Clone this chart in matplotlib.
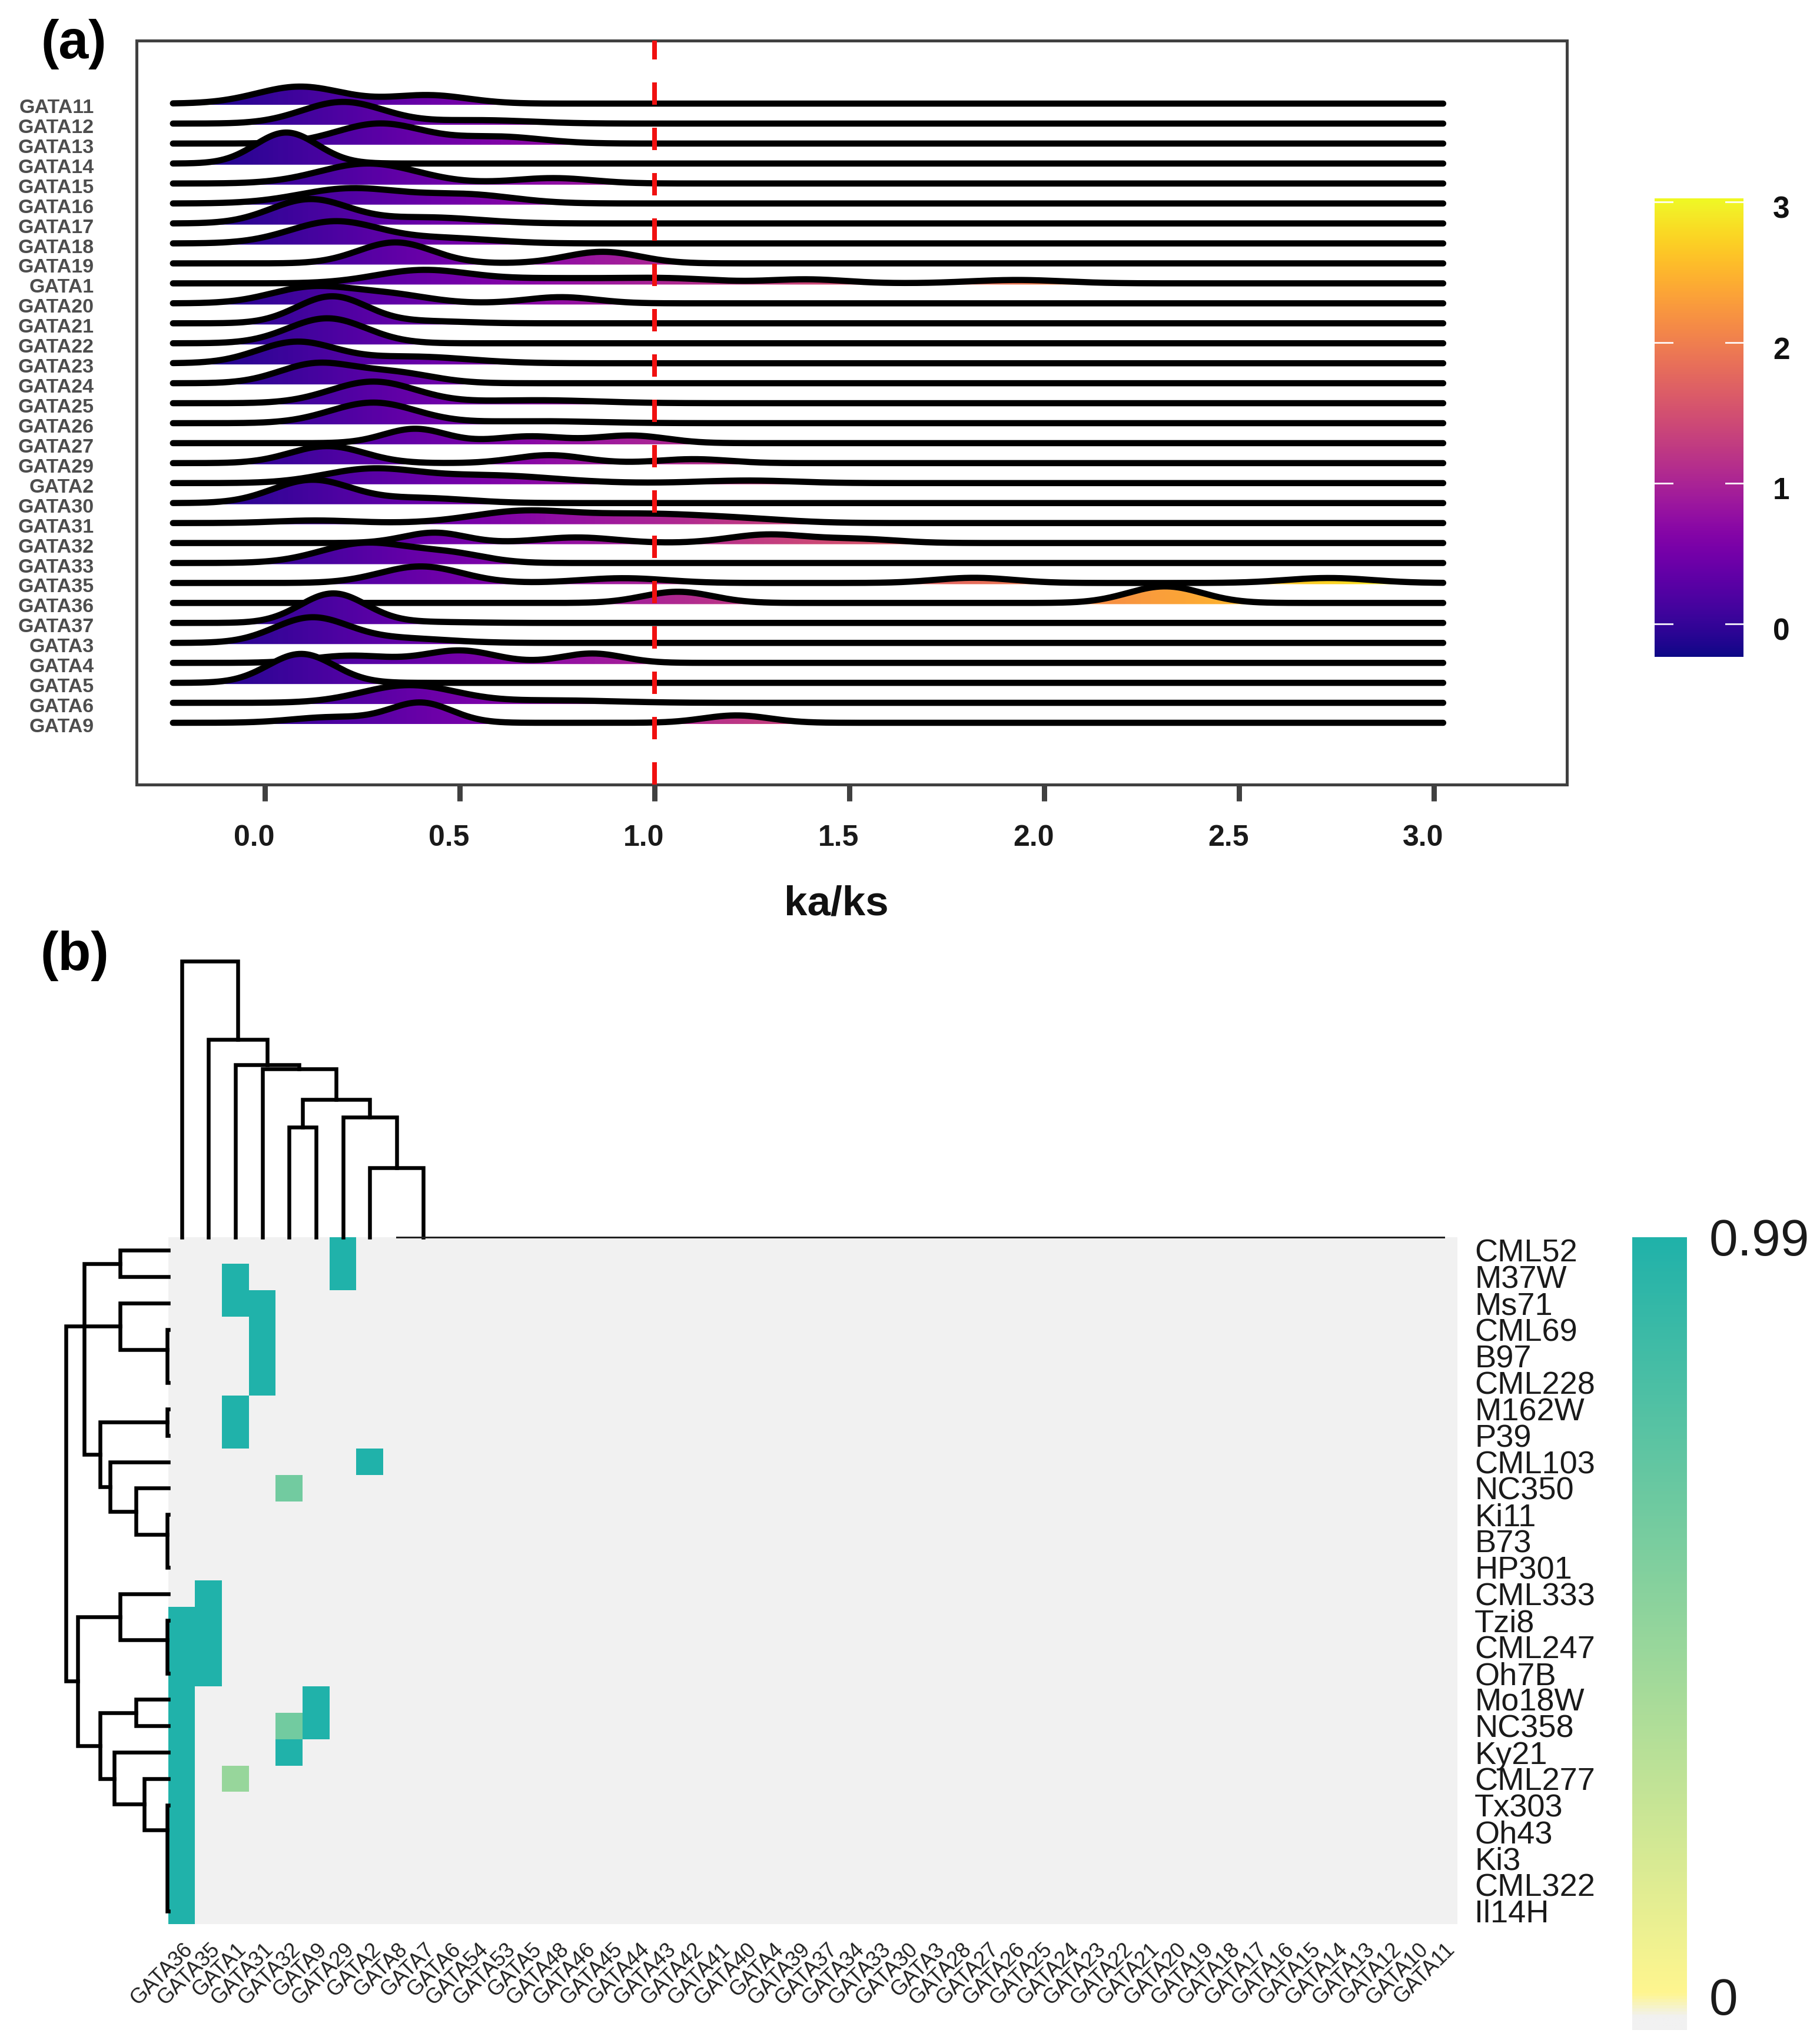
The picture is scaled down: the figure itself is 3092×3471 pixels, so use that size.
import numpy as np
import matplotlib
matplotlib.use("Agg")
import matplotlib.pyplot as plt
from matplotlib.colors import LinearSegmentedColormap, Normalize
from matplotlib.patches import PathPatch
from matplotlib.path import Path
from matplotlib.transforms import ScaledTranslation

plt.rcParams['font.family'] = ['Liberation Sans', 'DejaVu Sans']

W, H, DPI = 3092, 3471, 100
PT = 72 / DPI

# ---------- panel (a) data ----------
GENES = ["GATA11","GATA12","GATA13","GATA14","GATA15","GATA16","GATA17","GATA18","GATA19","GATA1",
         "GATA20","GATA21","GATA22","GATA23","GATA24","GATA25","GATA26","GATA27","GATA29","GATA2",
         "GATA30","GATA31","GATA32","GATA33","GATA35","GATA36","GATA37","GATA3","GATA4","GATA5",
         "GATA6","GATA9"]
# density bumps of each gene: centre (ka/ks), height (in rows), spread (ka/ks)
PEAK_X = [[.09,.42],[.2,.55],[.295,.6],[.055],[.265,.74],[.22,.52],[.115,.42],[.18,.47],[.335,.867],
          [.4,.75,1.05,1.39,1.93],[.12,.32,.76],[.172,.42],[.16],[.08,.38],[.13,.33],[.278,.7],[.278,.7],
          [.385,.68,.94],[.16,.73,1.1],[.27,.58,1.24],[.12,.4],[.13,.66,.97,1.22],[.435,.8,1.29,1.52],
          [.26,.48],[.4,.92,1.82,2.73],[1.06,2.31],[.175,.4],[.119,.35],[.22,.5,.84],[.093],[.37,.75],
          [.17,.4,1.21]]
PEAK_H = [[.85,.42],[1.08,.17],[1.0,.34],[1.55],[1.0,.27],[.75,.43],[1.2,.3],[1.1,.25],[1.05,.58],
          [.62,.25,.18,.2,.17],[.8,.42,.31],[1.35,.1],[1.25],[1.05,.33],[.95,.52],[1.08,.15],[1.03,.1],
          [.72,.34,.38],[.85,.4,.2],[.68,.38,.13],[1.15,.25],[.13,.58,.42,.18],[.52,.28,.42,.2],
          [1.0,.42],[.83,.24,.26,.25],[.56,.83],[1.47,.05],[1.25,.22],[.36,.62,.47],[1.45],[.88,.12],
          [.28,1.0,.37]]
PEAK_W = [[.11,.1],[.105,.13],[.11,.11],[.08],[.125,.1],[.13,.12],[.1,.13],[.115,.12],[.095,.095],
          [.12,.2,.12,.1,.12],[.105,.1,.09],[.09,.1],[.1],[.1,.14],[.095,.1],[.11,.15],[.11,.15],
          [.08,.09,.09],[.095,.09,.09],[.12,.16,.12],[.1,.12],[.1,.13,.15,.13],[.08,.1,.1,.1],
          [.115,.09],[.105,.11,.1,.11],[.09,.095],[.085,.12],[.095,.12],[.1,.09,.08],[.085],[.12,.15],
          [.1,.08,.085]]
X_MIN, X_MAX = -0.236, 3.024
CUTOFF = 1.0
XTICKS = [0.0, 0.5, 1.0, 1.5, 2.0, 2.5, 3.0]
CBAR_A_TICKS = [0, 1, 2, 3]

# ---------- panel (b) data ----------
COLS = ["GATA36","GATA35","GATA1","GATA31","GATA32","GATA9","GATA29","GATA2","GATA8","GATA7","GATA6",
        "GATA54","GATA53","GATA5","GATA48","GATA46","GATA45","GATA44","GATA43","GATA42","GATA41",
        "GATA40","GATA4","GATA39","GATA37","GATA34","GATA33","GATA30","GATA3","GATA28","GATA27",
        "GATA26","GATA25","GATA24","GATA23","GATA22","GATA21","GATA20","GATA19","GATA18","GATA17",
        "GATA16","GATA15","GATA14","GATA13","GATA12","GATA10","GATA11"]
ROWS = ["CML52","M37W","Ms71","CML69","B97","CML228","M162W","P39","CML103","NC350","Ki11","B73",
        "HP301","CML333","Tzi8","CML247","Oh7B","Mo18W","NC358","Ky21","CML277","Tx303","Oh43","Ki3",
        "CML322","Il14H"]
HIGH = 0.99
CELL_ROW = [0,1, 1,2, 2,3,4,5, 6,7, 8, 9, 13,14,15,16, 14,15,16,17,18,19,20,21,22,23,24,25, 17,18, 18, 19, 20]
CELL_COL = [6,6, 2,2, 3,3,3,3, 2,2, 7, 4, 1,1,1,1, 0,0,0,0,0,0,0,0,0,0,0,0, 5,5, 4, 4, 2]
CELL_VAL = [HIGH]*11 + [.64] + [HIGH]*18 + [.64, HIGH, .48]

# dendrogram links: lower child position, upper child position, height, child heights
COL_LO   = [4.5, 7.5, 6.5, 5.0, 3.5, 2.5, 1.5, 0.5]
COL_HI   = [5.5, 9.5, 8.5, 7.5, 6.25, 4.875, 3.6875, 2.594]
COL_H    = [.399, .252, .435, .499, .61, .625, .716, 1.0]
COL_H_LO = [0, 0, 0, .399, 0, 0, 0, 0]
COL_H_HI = [0, 0, .252, .435, .499, .61, .625, .716]
COL_FLAT = [8.5, 47.5]

ROW_LO   = [.5,3.5,2.5,6.5,10.5,9.5,8.5,7,1,14.5,13.5,17.5,21.5,20.5,19.5,18,14.375,3.375]
ROW_HI   = [1.5,5.5,4.25,7.5,12.5,11.25,10.375,9.4375,8.22,16.5,15.25,18.5,25.5,22.43,21.46,20.5,19.25,16.8]
ROW_H    = [.471,.014,.471,.014,.014,.316,.571,.667,.822,.014,.471,.316,.014,.236,.529,.667,.885,1.0]
ROW_H_LO = [0,0,0,0,0,0,0,.014,.471,0,0,0,0,0,0,.316,.471,.471]
ROW_H_HI = [0,0,.014,0,0,.014,.316,.571,.667,0,.014,0,0,.014,.236,.529,.667,.885]

fig = plt.figure(figsize=(W / DPI, H / DPI), dpi=DPI, facecolor='white')

def axpx(l, t, r, b, **kw):
    return fig.add_axes([l / W, 1 - b / H, (r - l) / W, (b - t) / H], **kw)

def shift(label, dx, dy):
    label.set_transform(label.get_transform() +
                        ScaledTranslation(dx / DPI, dy / DPI, fig.dpi_scale_trans))

def figtext(x, y, s, **kw):
    fig.text(x / W, 1 - y / H, s, **kw)

# ---------- ridges ----------
FRAME_R = 2662
ax = axpx(232, 69, FRAME_R, 1333)
n = len(GENES)
row_px = 33.94
xlim = ((232 - 450) / 662, (FRAME_R - 450) / 662)
ylim = (1 - 105 / row_px, n + 107 / row_px)
xs = np.linspace(X_MIN, X_MAX, 1400)
grad = np.linspace(X_MIN, X_MAX, 700)[None, :]
for i, g in enumerate(GENES):
    base = n - i
    h = np.zeros_like(xs)
    for c, a, s in zip(PEAK_X[i], PEAK_H[i], PEAK_W[i]):
        h += a * np.exp(-0.5 * ((xs - c) / s) ** 2)
    z = 2 + i * 2
    top = base + h
    fy = np.where(h > 0.08, top, base - .06)
    verts = np.r_[np.c_[xs, fy], [[xs[-1], base - .06], [xs[0], base - .06]]]
    poly = PathPatch(Path(verts), transform=ax.transData, fc='none', ec='none')
    ax.add_patch(poly)
    im = ax.imshow(grad, extent=[X_MIN, X_MAX, base - .2, base + 2], aspect='auto',
                   cmap='plasma', norm=Normalize(X_MIN, X_MAX), zorder=z, interpolation='bilinear')
    im.set_clip_path(poly)
    ax.plot(xs, top, color='black', lw=10.5 * PT, zorder=z + 1, solid_capstyle='round', solid_joinstyle='round')
ax.set_xlim(*xlim)
ax.set_ylim(*ylim)
ax.axvline(CUTOFF, color='#f01010', lw=8 * PT, dashes=(38 / 8, 39 / 8), dash_capstyle='butt', zorder=200)
for s in ax.spines.values():
    s.set_linewidth(5 * PT)
    s.set_color('#404040')
ax.set_xticks(XTICKS)
ax.set_xticklabels([f"{v:.1f}" for v in XTICKS], fontsize=36, fontweight='bold', color='#1a1a1a')
ax.tick_params(axis='x', length=28 * PT, width=9 * PT, color='#404040', pad=40 * PT)
ax.set_yticks([n - i for i in range(n)])
ax.set_yticklabels(GENES, fontsize=24.5, fontweight='bold', color='#4d4d4d')
ax.tick_params(axis='y', length=0, pad=72 * PT)
for lb in ax.get_xticklabels():
    shift(lb, -18, 0)
for lb in ax.get_yticklabels():
    shift(lb, 0, -4)
figtext(1421, 1536, "ka/ks", fontsize=51, fontweight='bold', ha='center', va='center', color='#111111')
figtext(125, 75, "(a)", fontsize=66, fontweight='bold', ha='center', va='center', color='black')
figtext(127, 1624, "(b)", fontsize=66, fontweight='bold', ha='center', va='center', color='black')

# ---------- colourbar (a) ----------
cb = axpx(2811, 337, 2962, 1116)
cb.imshow(np.linspace(X_MAX, X_MIN, 512)[:, None], extent=[0, 1, X_MIN, X_MAX], aspect='auto',
          cmap='plasma', norm=Normalize(X_MIN, X_MAX))
cb.set_xlim(0, 1)
cb.set_ylim(X_MIN, X_MAX)
cb.axis('off')
for v in CBAR_A_TICKS:
    cb.plot([0, .2], [v, v], color='white', lw=3 * PT, alpha=.9)
    cb.plot([.8, 1], [v, v], color='white', lw=3 * PT, alpha=.9)
    figtext(3026, 342 + (3 - v) * 239 + 15, str(v), fontsize=37, fontweight='bold',
            ha='center', va='center', color='#111111')

# ---------- heatmap ----------
heat_cmap = LinearSegmentedColormap.from_list(
    'heat', [(0, '#f1f1f1'), (.015, '#f1f1f1'), (.045, '#fff68f'), (1, '#20b2aa')])
M = np.zeros((len(ROWS), len(COLS)))
for r, c, v in zip(CELL_ROW, CELL_COL, CELL_VAL):
    M[r, c] = v
hx = axpx(286, 2102, 2476, 3269)
hx.imshow(M, cmap=heat_cmap, norm=Normalize(0, HIGH), aspect='auto', interpolation='nearest',
          extent=[0, len(COLS), len(ROWS), 0])
for s in hx.spines.values():
    s.set_visible(False)
hx.set_xticks(np.arange(len(COLS)) + .5)
hx.set_xticklabels(COLS, fontsize=26, rotation=45, ha='right', va='center', rotation_mode='anchor', color='#222222')
hx.yaxis.tick_right()
hx.set_yticks(np.arange(len(ROWS)) + .5)
hx.set_yticklabels(ROWS, fontsize=39, color='#1a1a1a')
hx.tick_params(axis='both', length=0)
hx.tick_params(axis='x', pad=38 * PT)
hx.tick_params(axis='y', pad=29 * PT)
for lb in hx.get_xticklabels():
    shift(lb, 13, 0)

# ---------- dendrograms ----------
dl = dict(color='black', lw=6.5 * PT, solid_capstyle='projecting', solid_joinstyle='miter', clip_on=False)
top_ax = axpx(286, 1633, 2476, 2102)
top_ax.set_xlim(0, len(COLS))
top_ax.set_ylim(0, 1)
top_ax.axis('off')
for lo, hi, h, hl, hh in zip(COL_LO, COL_HI, COL_H, COL_H_LO, COL_H_HI):
    top_ax.plot([lo, lo, hi, hi], [hl, h, h, hh], **dl)
top_ax.plot(COL_FLAT, [0, 0], color='#222222', lw=3 * PT, clip_on=False)

left = axpx(112, 2102, 286, 3269)
left.set_xlim(1, 0)
left.set_ylim(len(ROWS), 0)
left.axis('off')
for lo, hi, h, hl, hh in zip(ROW_LO, ROW_HI, ROW_H, ROW_H_LO, ROW_H_HI):
    left.plot([hl, h, h, hh], [lo, lo, hi, hi], **dl)

# ---------- colourbar (b) ----------
cb2 = axpx(2773, 2102, 2866, 3449)
cb2.imshow(np.linspace(HIGH, 0, 512)[:, None], cmap=heat_cmap, norm=Normalize(0, HIGH), aspect='auto')
cb2.axis('off')
figtext(2904, 2110, "0.99", fontsize=63, ha='left', va='center', color='#1a1a1a')
figtext(2904, 3400, "0", fontsize=63, ha='left', va='center', color='#1a1a1a')

fig.savefig('out.png', dpi=DPI, facecolor='white')
